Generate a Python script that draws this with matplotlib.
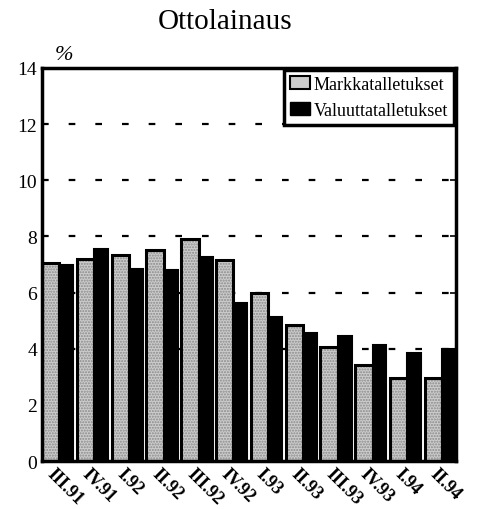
import matplotlib.pyplot as plt
import matplotlib.patches as mpatches
import numpy as np

quarters = ["III.91", "IV.91", "I.92", "II.92", "III.92", "IV.92",
            "I.93", "II.93", "III.93", "IV.93", "I.94", "II.94"]
markka = [7.05, 7.2, 7.35, 7.5, 7.9, 7.15, 5.98, 4.86, 4.07, 3.42, 2.94, 2.97]
valuutta = [6.97, 7.55, 6.85, 6.82, 7.26, 5.64, 5.14, 4.57, 4.45, 4.13, 3.84, 4.0]

plt.rcParams['font.family'] = ['Liberation Serif', 'DejaVu Serif']

fig = plt.figure(figsize=(4.78, 5.10), dpi=100)
ax = fig.add_axes([0.088, 0.094, 0.866, 0.771])

x = np.arange(len(quarters))
gw = 0.5
bw = 0.4

# grid lines first so bars cover them
for y in [4, 6, 8, 10, 12]:
    ax.axhline(y, color="black", lw=1.6, linestyle=(0, (3, 9)), zorder=0)

ax.bar(x + gw / 2, markka, width=gw, color="#cccccc", hatch="......",
       edgecolor="#8a8a8a", linewidth=0, zorder=2)
ax.bar(x + gw / 2, markka, width=gw, fill=False, edgecolor="black",
       linewidth=2.2, zorder=3)
ax.bar(x + gw + bw / 2, valuutta, width=bw, color="black",
       edgecolor="black", linewidth=1.5, zorder=2)

ax.set_xlim(0, len(quarters) - 1 + gw + bw)
ax.set_ylim(0, 14)
ax.set_yticks(range(0, 15, 2))
ax.tick_params(axis="y", direction="in", length=4, labelsize=14, width=1.2,
               right=True)
ax.set_xticks(x + 0.4)
ax.set_xticklabels(quarters, rotation=-45, ha="left", va="top",
                   rotation_mode="anchor", fontsize=13, fontweight="bold")
ax.tick_params(axis="x", length=0, pad=3)
for s in ax.spines.values():
    s.set_linewidth(2.5)

ax.text(0.03, 1.01, "%", transform=ax.transAxes, fontsize=16,
        style="italic", ha="left", va="bottom")
fig.text(0.47, 0.957, "Ottolainaus", fontsize=21, ha="center", va="center")

h1 = mpatches.Patch(facecolor="#cccccc", edgecolor="black", linewidth=1.5)
h2 = mpatches.Patch(facecolor="black", edgecolor="black")
leg = ax.legend([h1, h2], ["Markkatalletukset", "Valuuttatalletukset"],
                loc="upper right", fontsize=13, fancybox=False,
                framealpha=1, edgecolor="black", borderaxespad=0.1,
                handlelength=1.1, handletextpad=0.2, borderpad=0.35,
                labelspacing=0.5)
leg.get_frame().set_linewidth(2.5)
leg.set_zorder(5)

plt.savefig("out.png", dpi=100)
